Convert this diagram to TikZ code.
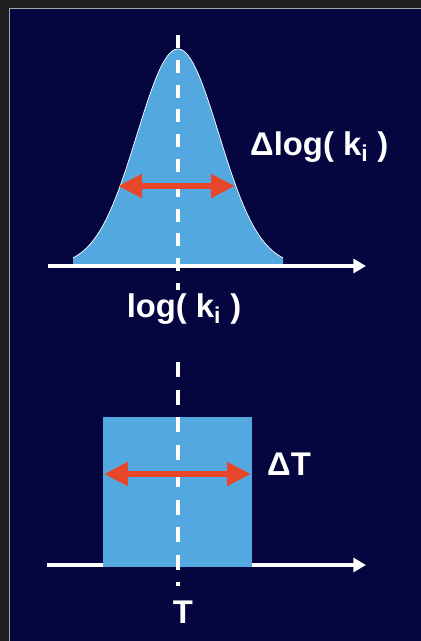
\documentclass[tikz,border=0pt]{standalone}
\usepackage{fontspec}
\setmainfont{Liberation Sans}
\usetikzlibrary{arrows.meta,positioning,calc}
\definecolor{navy}{RGB}{5,5,64}
\definecolor{frame}{RGB}{31,31,34}
\definecolor{peakblue}{RGB}{84,168,224}
\definecolor{widthred}{RGB}{232,70,42}

\begin{document}
\begin{tikzpicture}[x=0.03cm, y=-0.03cm,
  axisline/.style={white, line width=2.6pt, -{Triangle[length=0.38cm, width=0.42cm]}},
  widtharrow/.style={widthred, line width=5.2pt, {Triangle[length=0.72cm, width=0.68cm]}-{Triangle[length=0.72cm, width=0.68cm]}},
  centreline/.style={white, line width=3.2pt},
  lab/.style={white, inner sep=0pt, font=\fontsize{28}{32}\selectfont\bfseries}]
\useasboundingbox (0,0) rectangle (421,641);
\fill[frame] (0,0) rectangle (421,641);
\draw[gray!70, line width=0.8pt] (9,8) -- (421,8) (9,8) -- (9,641);
\fill[navy] (10,9) rectangle (421,641);
\coordinate (ta0) at (48,266);
\coordinate (ta1) at (366,266);
\coordinate (tc0) at (178,35);
\coordinate (tc1) at (178,290);
\coordinate (gl) at (118,186);
\coordinate (gr) at (235,186);
\coordinate (ba0) at (47,565);
\coordinate (ba1) at (366,565);
\coordinate (bc0) at (178,362);
\coordinate (bc1) at (178,586);
\coordinate (bl) at (104,474);
\coordinate (br) at (251,474);
\fill[peakblue] (73,266) -- plot[domain=73:283, samples=90] (\x, {266-217*exp(-((\x-178)/41)^2/2)}) -- (283,266) -- cycle;
\draw[white!85, line width=0.6pt] plot[domain=73:283, samples=90] (\x, {266-217*exp(-((\x-178)/41)^2/2)});
\draw[axisline] (ta0) -- (ta1);
\draw[centreline, dash pattern=on 0.39cm off 0.354cm] (tc0) -- (tc1);
\draw[widtharrow] (gl) -- (gr);
\node[lab, anchor=base west] (dlogk) at (250,155) {Δlog( k\textsubscript{i} )};
\node[lab, anchor=base] (logk) at (184,317) {log( k\textsubscript{i} )};
\draw[axisline] (ba0) -- (ba1);
\fill[peakblue] (103,417) rectangle (252,567);
\draw[centreline, dash pattern=on 0.45cm off 0.375cm] (bc0) -- (bc1);
\draw[widtharrow] (bl) -- (br);
\node[lab, anchor=base west] (dT) at (267,475) {ΔT};
\node[lab, anchor=base] (T) at (183,623) {T};
\end{tikzpicture}
\end{document}
